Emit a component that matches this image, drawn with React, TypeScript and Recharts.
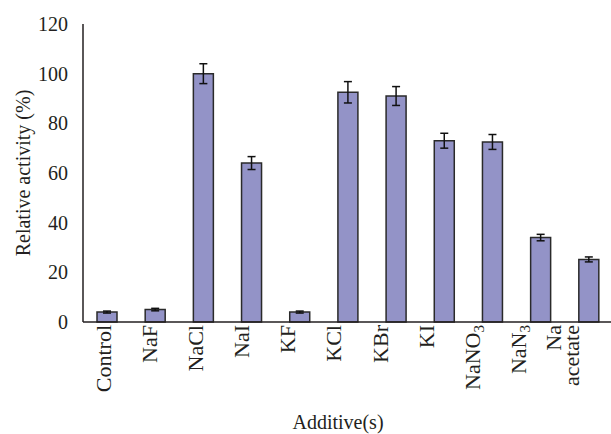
import { Bar, BarChart, ErrorBar, Label, XAxis, YAxis } from "recharts";

const additives = ["Control", "NaF", "NaCl", "NaI", "KF", "KCl", "KBr", "KI", "NaNO3", "NaN3", "Na acetate"];
const activity = [4, 5, 100, 64, 4, 92.5, 91, 73, 72.5, 34, 25.2];
const errors = [0.4, 0.5, 4, 2.6, 0.4, 4.3, 3.8, 3, 3, 1.3, 1];
const yTicks = [0, 20, 40, 60, 80, 100, 120];
const boundaryTicks = [1, 2, 3, 4, 5, 6, 7, 8, 9, 10];

const data = additives.map((name, i) => ({ name, value: activity[i], err: errors[i] }));

const FONT = '"Liberation Serif", "Times New Roman", serif';
const INK = "#231f20";
const textStyle = { fontFamily: FONT, fontSize: 20, fill: INK };

function AdditiveTick(props: any) {
  const { x, y, payload, index } = props;
  const name: string = payload.value;
  const off = -4 - 2.05 * index;
  const common = {
    transform: `translate(${x + off}, ${y - 5}) rotate(-90)`,
    textAnchor: "end" as const,
    style: { ...textStyle, fontSize: 22 },
  };
  if (name === "Na acetate") {
    return (
      <text {...common}>
        <tspan x={0} dy="-0.15em">Na</tspan>
        <tspan x={0} dy="0.8em">acetate</tspan>
      </text>
    );
  }
  if (name === "NaNO3" || name === "NaN3") {
    return (
      <text {...common} dy="0.35em">
        <tspan>{name.slice(0, -1)}</tspan>
        <tspan dy="0.3em" style={{ fontSize: 15 }}>3</tspan>
      </text>
    );
  }
  return (
    <text {...common} dy="0.35em">
      {name}
    </text>
  );
}

export default function App() {
  return (
    <div style={{ position: "absolute", left: 0, top: 0, width: 611, height: 434, overflow: "hidden", background: "#fff", fontFamily: FONT }}>
      <BarChart width={614} height={434} data={data} margin={{ top: 24, right: 1, left: 0, bottom: 0 }}>
        <XAxis
          dataKey="name"
          height={112}
          tickLine={false}
          axisLine={{ stroke: INK, strokeWidth: 1.5 }}
          tick={AdditiveTick}
          interval={0}
        >
          <Label
            content={({ viewBox }: any) => (
              <text
                x={viewBox.x + viewBox.width / 2 - 10}
                y={viewBox.y + viewBox.height - 5}
                textAnchor="middle"
                style={textStyle}
              >
                Additive(s)
              </text>
            )}
          />
        </XAxis>
        <XAxis
          xAxisId="b"
          type="number"
          domain={[0, 11]}
          ticks={boundaryTicks}
          allowDataOverflow
          mirror
          height={0}
          tickSize={5}
          tick={false}
          tickLine={{ stroke: INK, strokeWidth: 1.2 }}
          axisLine={false}
        />
        <YAxis
          width={83}
          domain={[0, 120]}
          ticks={yTicks}
          tickLine={false}
          tickMargin={9}
          axisLine={{ stroke: INK, strokeWidth: 1.5 }}
          tick={{ style: textStyle, fontFamily: FONT, fontSize: 20, fill: INK }}
        >
          <Label
            content={({ viewBox }: any) => {
              const cx = 23;
              const cy = viewBox.y + viewBox.height / 2;
              return (
                <text
                  x={cx}
                  y={cy}
                  dy="0.35em"
                  transform={`rotate(-90 ${cx} ${cy})`}
                  textAnchor="middle"
                  style={textStyle}
                >
                  Relative activity (%)
                </text>
              );
            }}
          />
        </YAxis>
        <Bar dataKey="value" barSize={20} fill="#9393c7" stroke="#2a2a2a" strokeWidth={1.5} isAnimationActive={false}>
          <ErrorBar dataKey="err" width={4} stroke="#111" strokeWidth={1.5} isAnimationActive={false} />
        </Bar>
      </BarChart>
    </div>
  );
}
